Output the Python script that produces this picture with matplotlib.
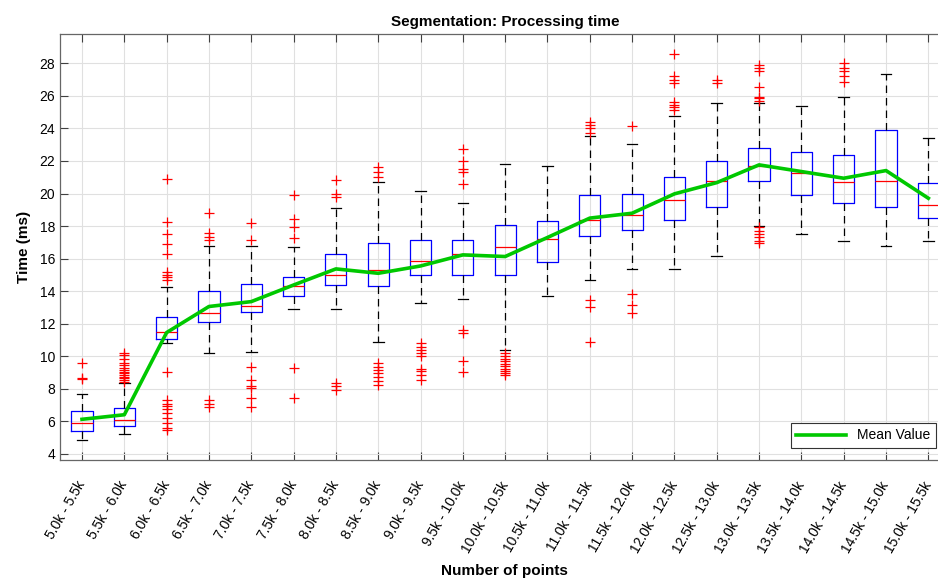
import matplotlib
matplotlib.use("Agg")
import matplotlib.pyplot as plt

plt.rcParams['font.family'] = ['Liberation Sans', 'DejaVu Sans']

# ---- data (ms) ----
labels = ["5.0k - 5.5k", "5.5k - 6.0k", "6.0k - 6.5k", "6.5k - 7.0k", "7.0k - 7.5k",
          "7.5k - 8.0k", "8.0k - 8.5k", "8.5k - 9.0k", "9.0k - 9.5k", "9.5k - 10.0k",
          "10.0k - 10.5k", "10.5k - 11.0k", "11.0k - 11.5k", "11.5k - 12.0k",
          "12.0k - 12.5k", "12.5k - 13.0k", "13.0k - 13.5k", "13.5k - 14.0k",
          "14.0k - 14.5k", "14.5k - 15.0k", "15.0k - 15.5k"]
whisker_lo = [4.88, 5.23, 10.8, 10.23, 10.29, 12.93, 12.89, 10.86, 13.3, 13.53, 10.39,
              13.69, 14.69, 15.39, 15.39, 16.19, 18.0, 17.52, 17.11, 16.8, 17.11]
q1 = [5.41, 5.72, 11.09, 12.09, 12.71, 13.69, 14.41, 14.31, 14.98, 14.98, 14.98,
      15.78, 17.38, 17.78, 18.38, 19.16, 20.78, 19.92, 19.41, 19.2, 18.49]
median = [5.89, 6.07, 11.5, 12.65, 13.11, 14.31, 15.0, 15.29, 15.86, 16.29, 16.7,
          17.2, 18.38, 18.69, 19.59, 20.78, 21.7, 21.29, 20.7, 20.8, 19.3]
q3 = [6.64, 6.81, 12.44, 14.0, 14.47, 14.9, 16.27, 16.95, 17.13, 17.17, 18.05,
      18.34, 19.9, 19.98, 20.99, 21.97, 22.79, 22.58, 22.38, 23.91, 20.64]
whisker_hi = [7.69, 8.34, 14.28, 16.78, 16.78, 16.7, 19.1, 20.7, 20.18, 19.39, 21.8,
              21.68, 23.56, 23.07, 24.77, 25.59, 25.59, 25.39, 25.9, 27.35, 23.4]
outliers = [
    [8.59, 8.65, 9.61],
    [8.44, 8.55, 8.65, 8.75, 8.85, 8.95, 9.05, 9.15, 9.3, 9.45, 9.6, 9.85, 10.05, 10.23],
    [14.7, 14.85, 15.0, 15.2, 16.29, 16.9, 17.52, 18.28, 20.88,
     9.06, 7.3, 7.1, 6.95, 6.75, 6.5, 6.2, 5.9, 5.6, 5.47],
    [17.15, 17.35, 17.56, 18.79, 6.9, 7.1, 7.32],
    [17.15, 18.22, 9.37, 8.55, 8.2, 8.04, 7.46, 6.9],
    [17.26, 17.97, 18.42, 19.92, 9.3, 7.46],
    [19.81, 20.0, 20.84, 8.36, 8.15, 7.93],
    [21.0, 21.3, 21.6, 9.6, 9.35, 9.15, 8.95, 8.7, 8.5, 8.25],
    [10.8, 10.6, 10.4, 10.2, 10.0, 9.22, 9.1, 8.85, 8.55],
    [20.58, 21.3, 21.5, 21.97, 22.74, 11.62, 11.46, 9.73, 9.06],
    [10.2, 10.0, 9.85, 9.7, 9.55, 9.4, 9.25, 9.1, 8.95, 8.85],
    [],
    [23.71, 24.0, 24.2, 24.42, 13.46, 13.05, 10.9],
    [24.16, 13.8, 13.16, 12.65],
    [25.14, 25.3, 25.45, 25.65, 26.78, 27.0, 27.19, 28.58],
    [26.78, 27.0],
    [25.7, 25.85, 25.96, 26.57, 27.5, 27.7, 27.9, 17.97, 17.7, 17.5, 17.3, 17.1, 16.95],
    [],
    [26.88, 27.2, 27.5, 27.7, 28.0],
    [],
    [],
]
mean_value = [6.13, 6.41, 11.46, 13.06, 13.36, 14.38, 15.37, 15.1, 15.55, 16.23, 16.13,
              17.3, 18.49, 18.79, 19.98, 20.67, 21.76, 21.35, 20.94, 21.41, 19.71]

W, H = 938, 583
fig = plt.figure(figsize=(W / 100, H / 100), dpi=100)
ax = fig.add_axes([60 / W, 1 - 460 / H, 889.5 / W, 426 / H])

stats = []
for i in range(len(labels)):
    stats.append(dict(med=median[i], q1=q1[i], q3=q3[i], whislo=whisker_lo[i],
                      whishi=whisker_hi[i], fliers=outliers[i]))
pos = list(range(1, len(labels) + 1))

ax.bxp(stats, positions=pos, widths=0.5, capwidths=0.25, showfliers=True,
       boxprops=dict(color="blue", lw=0.9),
       medianprops=dict(color="red", lw=0.9),
       whiskerprops=dict(color="black", lw=0.9, ls=(0, (6, 4))),
       capprops=dict(color="black", lw=0.9),
       flierprops=dict(marker="+", markeredgecolor="red", markersize=7, mew=0.9,
                       linestyle="none"))
ax.plot(pos, mean_value, color="#00c800", lw=2.6, label="Mean Value", zorder=5)

ax.set_xlim(0.48, 21.5)
ax.set_ylim(3.63, 29.8)
ax.set_yticks(range(4, 29, 2))
ax.set_xticks(pos)
ax.set_xticklabels(labels, rotation=60, ha="right", va="center",
                   rotation_mode="anchor", fontsize=10)
ax.tick_params(axis="y", labelsize=10)
ax.tick_params(direction="in", length=6, width=0.8, color="0.25", top=True, right=True)
ax.tick_params(axis="x", pad=16)
ax.grid(True, color="0.88", lw=0.8)
ax.set_axisbelow(True)
for s in ax.spines.values():
    s.set_color("0.4")
    s.set_linewidth(0.9)

ax.set_title("Segmentation: Processing time", fontsize=11, fontweight="bold", pad=6)
ax.set_xlabel("Number of points", fontsize=11, fontweight="bold", labelpad=6)
ax.set_ylabel("Time (ms)", fontsize=11, fontweight="bold", labelpad=6)

leg = ax.legend(loc="lower right", bbox_to_anchor=(936 / W, 1 - 448 / H),
                bbox_transform=fig.transFigure, borderaxespad=0, fancybox=False,
                fontsize=10, handlelength=3.6, framealpha=1)
leg.get_frame().set_edgecolor("0.2")
leg.get_frame().set_linewidth(0.8)

fig.savefig("out.png", dpi=100)
